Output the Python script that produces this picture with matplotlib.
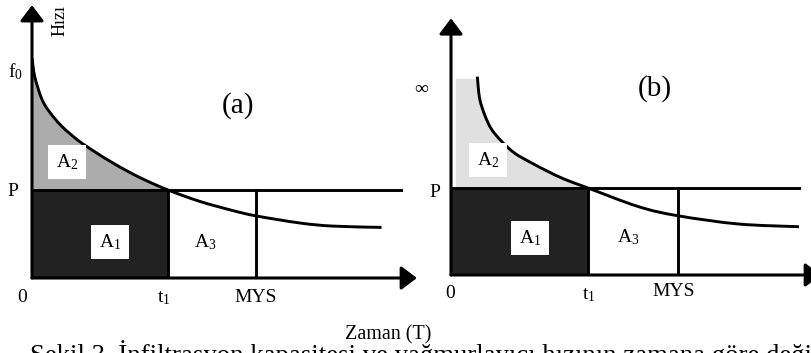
import matplotlib
matplotlib.use("Agg")
import matplotlib.pyplot as plt
from matplotlib.path import Path
from matplotlib.patches import PathPatch
import numpy as np

plt.rcParams['font.family'] = ['Liberation Serif', 'DejaVu Serif']
plt.rcParams['mathtext.fontset'] = 'custom'
plt.rcParams['mathtext.rm'] = 'Liberation Serif'
plt.rcParams['mathtext.it'] = 'Liberation Serif:italic'

# ---- data (time in units of t1, rate in units of P) ----
t1 = 1.0
P = 1.0
mys_a = 1.65
mys_b = 1.66

curve_a_t = [0.0, 0.02, 0.068, 0.118, 0.215, 0.338, 0.461, 0.583, 0.706, 0.829, 1.0,
             1.235, 1.48, 1.65, 1.97, 2.21, 2.57]
curve_a_f = [2.50, 2.29, 2.05, 1.91, 1.73, 1.565, 1.435, 1.318, 1.211, 1.115, 1.0,
             0.87, 0.765, 0.705, 0.625, 0.59, 0.575]

curve_b_t = [0.192, 0.209, 0.246, 0.294, 0.367, 0.465, 0.586, 0.708, 0.83, 1.0,
             1.37, 1.66, 2.10, 2.54]
curve_b_f = [2.28, 2.03, 1.84, 1.68, 1.54, 1.40, 1.29, 1.19, 1.10, 1.0,
             0.785, 0.68, 0.586, 0.555]
b_fill_top = 2.26
b_fill_left = 0.03

x_labels = ["0", "t$_\\mathrm{1}$", "MYS"]

W, H = 812, 353
fig = plt.figure(figsize=(W / 100, H / 100), dpi=100)


def fx(px):
    return px / W


def fy(py):
    return 1 - py / H


def make_axes(x0, xend, y0, ytop, xs, ys):
    ax = fig.add_axes([fx(x0), fy(y0), (xend - x0) / W, (y0 - ytop) / H])
    ax.set_xlim(0, (xend - x0) / xs)
    ax.set_ylim(0, (y0 - ytop) / ys)
    ax.axis('off')
    return ax


def arrow(ax, start, end):
    ax.annotate('', xy=end, xytext=start, xycoords='data', textcoords='data',
                annotation_clip=False,
                arrowprops=dict(arrowstyle='-|>,head_length=0.95,head_width=0.72',
                                mutation_scale=10, lw=2.2, color='black',
                                shrinkA=0, shrinkB=0))


def smooth_path(xs, ys):
    # Catmull-Rom through the read points, drawn as cubic Bezier segments
    p = np.column_stack([xs, ys]).astype(float)
    n = len(p)
    verts = [p[0]]
    codes = [Path.MOVETO]
    for i in range(n - 1):
        p0 = p[i - 1] if i > 0 else p[i]
        p1, p2 = p[i], p[i + 1]
        p3 = p[i + 2] if i + 2 < n else p[i + 1]
        c1 = p1 + (p2 - p0) / 6.0
        c2 = p2 - (p3 - p1) / 6.0
        verts += [c1, c2, p2]
        codes += [Path.CURVE4] * 3
    return Path(verts, codes)


def draw_curve(ax, xs, ys, lw):
    ax.add_patch(PathPatch(smooth_path(xs, ys), fill=False, lw=lw, ec='black',
                           capstyle='butt'))


def fill_under_curve(ax, xs, ys, top_cap, left, color):
    # region between the level P and the smoothed curve, up to t1
    path = smooth_path(xs, ys)
    pts = path.to_polygons(closed_only=False)[0]
    pts = pts[pts[:, 0] <= t1 + 1e-9]
    px = np.concatenate([[left], pts[:, 0]])
    py = np.concatenate([[top_cap], np.minimum(pts[:, 1], top_cap)])
    ax.fill_between(px, P, py, color=color, lw=0)


lw_main = 2.1

# ---------------- panel (a) ----------------
axa = make_axes(32, 420, 278, 0, 136, 88)
fill_under_curve(axa, curve_a_t, curve_a_f, curve_a_f[0], 0.0, '#acacac')
axa.fill_between([0, t1], 0, P, color='#222222', lw=0)
draw_curve(axa, curve_a_t, curve_a_f, lw_main)
axa.plot([0, 2.71], [P, P], color='black', lw=lw_main)
axa.plot([t1, t1], [0, P], color='black', lw=lw_main)
axa.plot([mys_a, mys_a], [0, P], color='black', lw=lw_main)
arrow(axa, (0, 0), (0, 3.10))
arrow(axa, (0, 0), (2.83, 0))

# ---------------- panel (b) ----------------
axb = make_axes(451, 812, 275, 0, 137, 87)
fill_under_curve(axb, curve_b_t, curve_b_f, b_fill_top, b_fill_left, '#e0e0e0')
axb.fill_between([0, t1], 0, P, color='#222222', lw=0)
draw_curve(axb, curve_b_t, curve_b_f, lw_main)
axb.plot([0, 2.54], [P, P], color='black', lw=lw_main)
axb.plot([t1, t1], [0, P], color='black', lw=lw_main)
axb.plot([mys_b, mys_b], [0, P], color='black', lw=lw_main)
arrow(axb, (0, 0), (0, 2.95))
arrow(axb, (0, 0), (2.70, 0))

# ---------------- texts ----------------
fs = 14
box = dict(boxstyle='square,pad=0.38', fc='white', ec='none')


def T(px, py, s, **kw):
    kw.setdefault('fontsize', fs)
    kw.setdefault('ha', 'center')
    kw.setdefault('va', 'center')
    fig.text(fx(px), fy(py), s, **kw)


# panel a
T(60, 20, "Hızı", rotation=90, fontsize=13)
T(15, 72, "f$_\\mathrm{0}$")
T(13, 191, "P")
T(22, 297, x_labels[0])
T(164, 298, x_labels[1])
T(256, 297, x_labels[2])
T(238, 106, "(a)", fontsize=21)
T(67, 162, "A$_\\mathrm{2}$", bbox=box)
T(110, 242, "A$_\\mathrm{1}$", bbox=box)
T(205, 242, "A$_\\mathrm{3}$")

# panel b
T(421, 90, "∞", fontsize=14)
T(435, 192, "P")
T(450, 294, x_labels[0])
T(589, 295, x_labels[1])
T(674, 291, x_labels[2])
T(655, 89, "(b)", fontsize=21)
T(488, 160, "A$_\\mathrm{2}$", bbox=box)
T(530, 238, "A$_\\mathrm{1}$", bbox=box)
T(628, 237, "A$_\\mathrm{3}$")

# bottom
T(388, 335, "Zaman (T)", fontsize=14.5)
fig.text(fx(30), fy(363), "Şekil 3. İnfiltrasyon kapasitesi ve yağmurlayıcı hızının zamana göre değişimi",
         fontsize=19.3, ha='left', va='baseline')

fig.savefig("out.png", dpi=100)
